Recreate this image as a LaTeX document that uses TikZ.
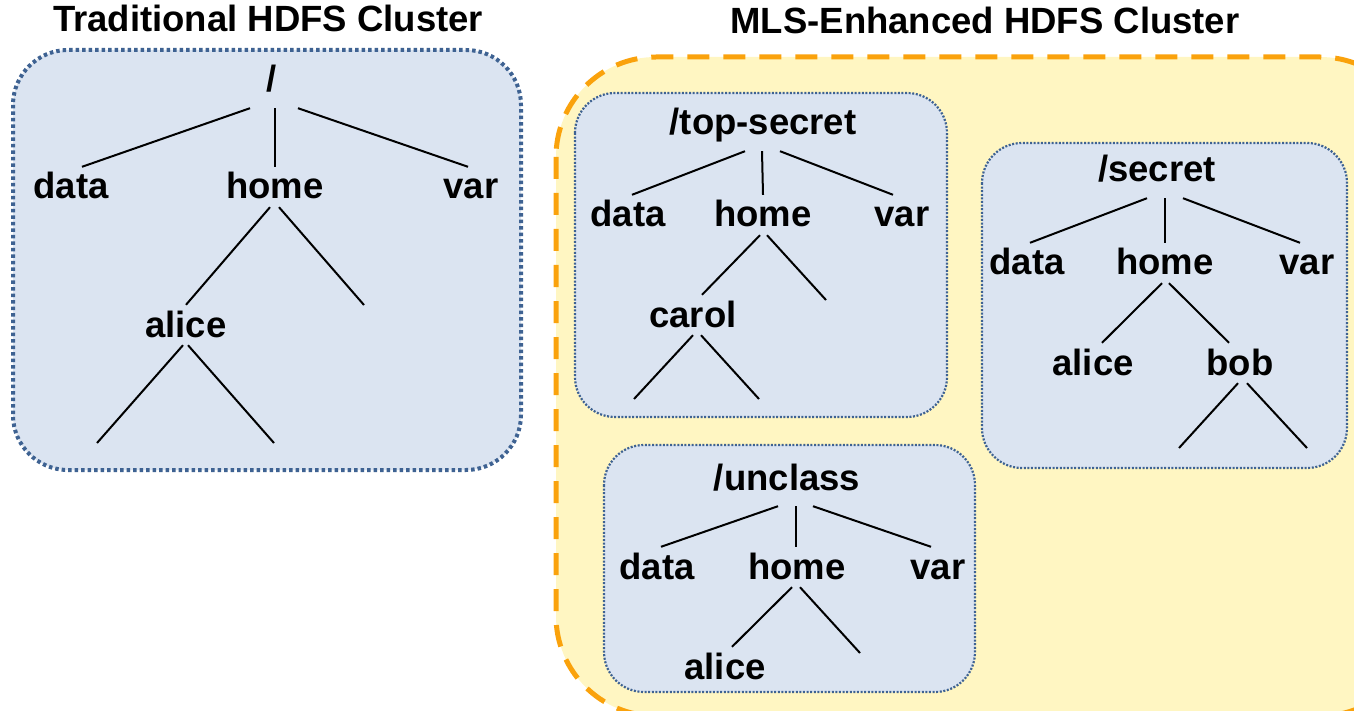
\documentclass[tikz,border=0pt]{standalone}
\usepackage{fontspec}
\setmainfont{Liberation Sans}
\usepackage{tikz}

\definecolor{boxblue}{RGB}{219,228,241}
\definecolor{dotblue}{RGB}{62,98,146}
\definecolor{mlsyellow}{RGB}{255,246,194}
\definecolor{mlsorange}{RGB}{250,162,12}

\tikzset{
  lbl/.style={font=\fontsize{36.5}{40}\selectfont\bfseries, text height=28pt, text depth=4pt, inner sep=4pt},
  rootlbl/.style={lbl, inner ysep=12pt},
  branch/.style={line width=2pt, black},
  clusterbox/.style={fill=boxblue, draw=dotblue, line width=4pt, dash pattern=on 3.5pt off 3pt, rounded corners=55pt},
  levelbox/.style={fill=boxblue, draw=dotblue, line width=2.2pt, dash pattern=on 2pt off 1.6pt, rounded corners=40pt},
  mlsbox/.style={fill=mlsyellow, draw=mlsorange, line width=5pt, dash pattern=on 22pt off 14pt, rounded corners=100pt}
}

\begin{document}
\begin{tikzpicture}[x=1pt, y=-1pt]
  \useasboundingbox (0,0) rectangle (1354,711);
  \clip (0,0) rectangle (1354,711);

  % titles
  \node[lbl] (ttitle) at (268,20) {Traditional HDFS Cluster};
  \node[lbl] (mtitle) at (985,22) {MLS-Enhanced HDFS Cluster};

  % traditional cluster
  \draw[clusterbox] (13,50) rectangle (521,470);
  \node[rootlbl] (troot) at (272,80) {/};
  \node[lbl] (tdata) at (71,187) {data};
  \node[lbl] (thome) at (275,187) {home};
  \node[lbl] (tvar) at (471,187) {var};
  \node[lbl] (talice) at (186,325) {alice};
  \coordinate (tc1) at (364,305);
  \coordinate (tl1) at (97,443);
  \coordinate (tl2) at (274,443);
  \draw[branch] ([xshift=-22pt]troot.south) -- ([xshift=11pt]tdata.north);
  \draw[branch] ([xshift=3pt]troot.south) -- (thome.north);
  \draw[branch] ([xshift=26pt]troot.south) -- ([xshift=-3pt]tvar.north);
  \draw[branch] ([xshift=-5pt]thome.south) -- (talice.north);
  \draw[branch] ([xshift=4pt]thome.south) -- (tc1);
  \draw[branch] ([xshift=-3pt]talice.south) -- (tl1);
  \draw[branch] ([xshift=2pt]talice.south) -- (tl2);

  % MLS cluster
  \draw[mlsbox] (556,57) rectangle (1420,716);

  % top-secret
  \draw[levelbox] (575,93) rectangle (947,417);
  \node[rootlbl] (tsroot) at (763,123) {/top-secret};
  \node[lbl] (tsdata) at (628,215) {data};
  \node[lbl] (tshome) at (763,215) {home};
  \node[lbl] (tsvar) at (902,215) {var};
  \node[lbl] (tscarol) at (693,315) {carol};
  \coordinate (tsc1) at (826,300);
  \coordinate (tsl1) at (634,399);
  \coordinate (tsl2) at (759,399);
  \draw[branch] ([xshift=-18pt]tsroot.south) -- ([xshift=4pt]tsdata.north);
  \draw[branch] ([xshift=-1pt]tsroot.south) -- (tshome.north);
  \draw[branch] ([xshift=17pt]tsroot.south) -- ([xshift=-9pt]tsvar.north);
  \draw[branch] ([xshift=-3pt]tshome.south) -- ([xshift=9pt]tscarol.north);
  \draw[branch] ([xshift=4pt]tshome.south) -- (tsc1);
  \draw[branch] (tscarol.south) -- (tsl1);
  \draw[branch] ([xshift=8pt]tscarol.south) -- (tsl2);

  % secret
  \draw[levelbox] (982,143) rectangle (1347,468);
  \node[rootlbl] (sroot) at (1157,170) {/secret};
  \node[lbl] (sdata) at (1027,263) {data};
  \node[lbl] (shome) at (1165,263) {home};
  \node[lbl] (svar) at (1307,263) {var};
  \node[lbl] (salice) at (1093,363) {alice};
  \node[lbl] (sbob) at (1240,363) {bob};
  \coordinate (sl1) at (1179,448);
  \coordinate (sl2) at (1307,448);
  \draw[branch] ([xshift=-10pt]sroot.south) -- ([xshift=3pt]sdata.north);
  \draw[branch] ([xshift=8pt]sroot.south) -- (shome.north);
  \draw[branch] ([xshift=26pt]sroot.south) -- ([xshift=-7pt]svar.north);
  \draw[branch] ([xshift=-3pt]shome.south) -- ([xshift=9pt]salice.north);
  \draw[branch] ([xshift=4pt]shome.south) -- ([xshift=-11pt]sbob.north);
  \draw[branch] ([xshift=-2pt]sbob.south) -- (sl1);
  \draw[branch] ([xshift=7pt]sbob.south) -- (sl2);

  % unclass
  \draw[levelbox] (604,445) rectangle (975,692);
  \node[rootlbl] (uroot) at (787,478) {/unclass};
  \node[lbl] (udata) at (657,567) {data};
  \node[lbl] (uhome) at (797,567) {home};
  \node[lbl] (uvar) at (938,567) {var};
  \node[lbl] (ualice) at (725,667) {alice};
  \coordinate (uc1) at (860,653);
  \draw[branch] ([xshift=-9pt]uroot.south) -- ([xshift=4pt]udata.north);
  \draw[branch] ([xshift=9pt]uroot.south) -- ([xshift=-1pt]uhome.north);
  \draw[branch] ([xshift=26pt]uroot.south) -- ([xshift=-7pt]uvar.north);
  \draw[branch] ([xshift=-5pt]uhome.south) -- ([xshift=7pt]ualice.north);
  \draw[branch] ([xshift=3pt]uhome.south) -- (uc1);
\end{tikzpicture}
\end{document}
